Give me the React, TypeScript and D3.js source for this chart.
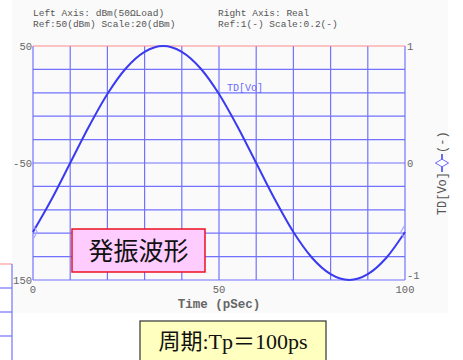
import React, { useEffect, useRef } from 'react';
import * as d3 from 'd3';

// time (pSec) and TD[Vo]
const timePs = [0, 5, 10, 15, 20, 25, 30, 35, 40, 45, 50, 55, 60, 65, 70, 75, 80, 85, 90, 95, 100];
const tdVo = [-0.59, -0.31, 0, 0.31, 0.59, 0.81, 0.95, 1.0, 0.95, 0.81, 0.59, 0.31, 0, -0.31, -0.59, -0.81, -0.95, -1.0, -0.95, -0.81, -0.59];

const leftTicks = [50, -50, -150];
const rightTicks = [1, 0, -1];
const xTicks = [0, 50, 100];

const headerLeft = ['Left Axis: dBm(50\u03A9Load)', 'Ref:50(dBm) Scale:20(dBm)'];
const headerRight = ['Right Axis: Real', 'Ref:1(-) Scale:0.2(-)'];

const W = 463;
const H = 360;
const plot = { left: 33, right: 405, top: 46, bottom: 280 };

const mono = '"Liberation Mono", "DejaVu Sans Mono", monospace';
const serifJp = '"Liberation Serif", "Noto Sans CJK JP", serif';

const App = () => {
  const svgRef = useRef<SVGSVGElement>(null);

  useEffect(() => {
    const svg = d3.select(svgRef.current);
    svg.selectAll('*').remove();

    const x = d3.scaleLinear().domain([0, 100]).range([plot.left, plot.right]);
    const yL = d3.scaleLinear().domain([-150, 50]).range([plot.bottom, plot.top]);
    const yR = d3.scaleLinear().domain([-1, 1]).range([plot.bottom, plot.top]);

    // faint backdrop of the captured chart image
    svg.append('rect')
      .attr('x', 12).attr('y', 0)
      .attr('width', 436).attr('height', 313)
      .attr('fill', '#fafafa');

    // header
    const hdr = svg.append('g').attr('font-family', mono).attr('font-size', 9.5).attr('fill', '#555');
    headerLeft.forEach((t, i) => hdr.append('text').attr('x', plot.left).attr('y', 16 + i * 11).text(t));
    headerRight.forEach((t, i) => hdr.append('text').attr('x', 218).attr('y', 16 + i * 11).text(t));

    // grid
    const grid = svg.append('g').attr('stroke', '#7272ff').attr('stroke-width', 1.2);
    d3.range(0, 101, 10).forEach(v => {
      grid.append('line')
        .attr('x1', x(v)).attr('x2', x(v))
        .attr('y1', plot.top).attr('y2', plot.bottom);
    });
    d3.range(-1, 1.0001, 0.2).forEach(v => {
      grid.append('line')
        .attr('x1', plot.left).attr('x2', plot.right)
        .attr('y1', yR(v)).attr('y2', yR(v))
        .attr('stroke', Math.abs(v - 1) < 1e-6 ? '#ff8c8c' : null);
    });

    // tick labels
    const tl = svg.append('g').attr('font-family', mono).attr('font-size', 10.5).attr('fill', '#666');
    leftTicks.forEach(v => {
      tl.append('text')
        .attr('x', plot.left - 1).attr('y', yL(v) + 4)
        .attr('text-anchor', 'end').text(v);
    });
    rightTicks.forEach(v => {
      tl.append('text')
        .attr('x', plot.right + 2).attr('y', yR(v) + (v === -1 ? -1 : 4))
        .text(v);
    });
    xTicks.forEach(v => {
      tl.append('text')
        .attr('x', x(v)).attr('y', plot.bottom + 13)
        .attr('text-anchor', 'middle').text(v);
    });

    svg.append('text')
      .attr('x', (plot.left + plot.right) / 2).attr('y', plot.bottom + 28)
      .attr('text-anchor', 'middle')
      .attr('font-family', mono).attr('font-size', 12.5).attr('font-weight', 'bold')
      .attr('fill', '#666')
      .text('Time (pSec)');

    // curve
    const pts = timePs.map((t, i) => [t, tdVo[i]] as [number, number]);
    svg.append('clipPath').attr('id', 'plotClip')
      .append('rect')
      .attr('x', plot.left).attr('y', plot.top - 2)
      .attr('width', plot.right - plot.left).attr('height', plot.bottom - plot.top + 4);

    const line = d3.line<[number, number]>()
      .x(d => x(d[0]))
      .y(d => yR(d[1]))
      .curve(d3.curveCardinal);

    svg.append('path')
      .datum(pts)
      .attr('fill', 'none')
      .attr('stroke', '#3a3af0')
      .attr('stroke-width', 2)
      .attr('d', line);

    // end markers (half hidden by the plot edge)
    const diamond = d3.symbol().type(d3.symbolDiamond).size(60);
    const ends = [pts[0], pts[pts.length - 1]];
    svg.append('g').attr('clip-path', 'url(#plotClip)')
      .selectAll('path')
      .data(ends)
      .join('path')
      .attr('d', diamond)
      .attr('transform', d => `translate(${x(d[0])},${yR(d[1])})`)
      .attr('fill', 'none')
      .attr('stroke', '#a8a8ff')
      .attr('stroke-width', 1.2);

    svg.append('text')
      .attr('x', 227).attr('y', 91)
      .attr('font-family', mono).attr('font-size', 10)
      .attr('fill', '#6a6aff')
      .text('TD[Vo]');

    // rotated legend on the right
    const leg = svg.append('g').attr('transform', `translate(446,${yR(0)}) rotate(-90)`);
    leg.append('text')
      .attr('x', -9).attr('y', 0)
      .attr('text-anchor', 'end')
      .attr('font-family', mono).attr('font-size', 12).attr('fill', '#555')
      .text('TD[Vo]');
    leg.append('line')
      .attr('x1', -9).attr('x2', 9).attr('y1', -4).attr('y2', -4)
      .attr('stroke', '#3a3af0').attr('stroke-width', 1.5);
    leg.append('path')
      .attr('d', d3.symbol().type(d3.symbolDiamond).size(50)())
      .attr('transform', 'translate(0,-4)')
      .attr('fill', '#fff').attr('stroke', '#6a6aff');
    leg.append('text')
      .attr('x', 10).attr('y', 0)
      .attr('font-family', mono).attr('font-size', 12).attr('fill', '#555')
      .text('(-)');

    // piece of a neighbouring chart at the lower left
    const mini = svg.append('g');
    mini.append('rect')
      .attr('x', -1).attr('y', 264).attr('width', 13).attr('height', 100)
      .attr('fill', '#fff').attr('stroke', 'none');
    mini.append('line')
      .attr('x1', 0).attr('x2', 12).attr('y1', 264).attr('y2', 264)
      .attr('stroke', '#ff9a9a').attr('stroke-width', 1.2);
    mini.append('line')
      .attr('x1', 12).attr('x2', 12).attr('y1', 264).attr('y2', 360)
      .attr('stroke', '#7272ff').attr('stroke-width', 1.2);
    [288, 312, 336].forEach(yy => {
      mini.append('line')
        .attr('x1', 0).attr('x2', 12).attr('y1', yy).attr('y2', yy)
        .attr('stroke', '#7272ff').attr('stroke-width', 1.2);
    });

    // callout boxes
    svg.append('rect')
      .attr('x', 72).attr('y', 229).attr('width', 133).attr('height', 43)
      .attr('fill', '#ffccff').attr('stroke', '#ee1122').attr('stroke-width', 1.5);
    svg.append('text')
      .attr('x', 138.5).attr('y', 260)
      .attr('text-anchor', 'middle')
      .attr('font-family', serifJp).attr('font-size', 25).attr('fill', '#111')
      .text('発振波形');

    svg.append('rect')
      .attr('x', 140).attr('y', 321).attr('width', 186).attr('height', 40)
      .attr('fill', '#ffffc0').attr('stroke', '#333').attr('stroke-width', 1.2);
    svg.append('text')
      .attr('x', 233).attr('y', 349)
      .attr('text-anchor', 'middle')
      .attr('font-family', serifJp).attr('font-size', 22).attr('fill', '#111')
      .text('周期:Tp＝100ps');
  }, []);

  return (
    <svg ref={svgRef} width={W} height={H} style={{ position: 'absolute', left: 0, top: 0, background: '#fff' }}></svg>
  );
};

export default App;
